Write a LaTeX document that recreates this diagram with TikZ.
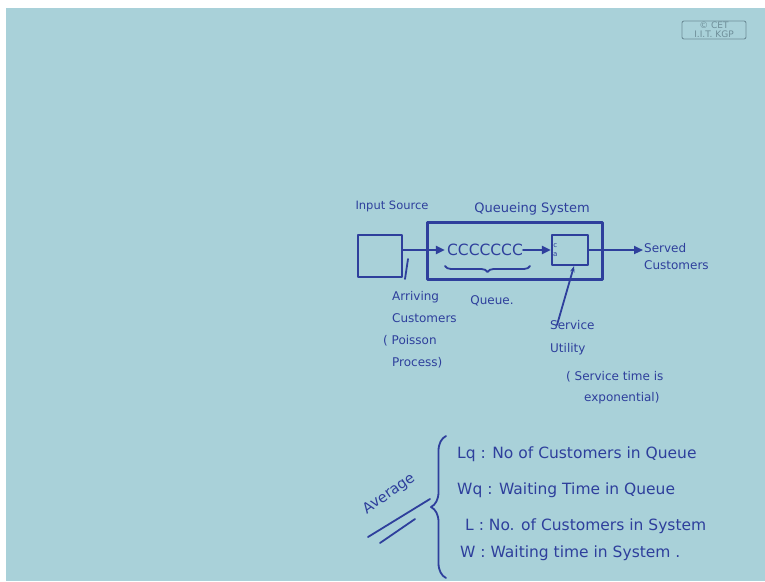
\documentclass[tikz,border=0pt]{standalone}
\usepackage{fontspec}
\setmainfont{DejaVu Sans}
\usetikzlibrary{
  arrows.meta,
  positioning,
  decorations.pathreplacing
}
\definecolor{qsBoard}{HTML}{A9D1D9}
\definecolor{qsInk}{HTML}{2E3F9C}
\definecolor{qsMark}{HTML}{6E8E99}
\tikzset{
  ink/.style={draw=qsInk, line width=2.2pt, line cap=round, line join=round},
  hand/.style={text=qsInk, inner sep=1pt, align=left},
  unitbox/.style={ink, rectangle, inner sep=0pt},
  flow/.style={ink, -{Triangle[length=9pt, width=8pt]}},
  pointer/.style={ink, line width=1.8pt},
  brace/.style={ink, line width=1.8pt, decorate, decoration={brace, amplitude=#1}},
  tag/.style={draw=qsMark, text=qsMark, rounded corners=2pt, line width=0.9pt,
    font=\fontsize{9}{9}\selectfont, align=center, inner sep=1pt},
  fs/.style 2 args={font=\fontsize{#1}{#2}\selectfont}
}

\begin{document}
\begin{tikzpicture}[x=1pt, y=-1pt, font=\fontsize{12}{14}\selectfont]
  \fill[white] (0,0) rectangle (765,581);
  \fill[qsBoard] (6,8) rectangle (765,581);
  \useasboundingbox (0,0) rectangle (765,581);

  % copyright tag
  \node[tag, minimum width=64, minimum height=18] (cet) at (714,30) {\copyright\ CET\\I.I.T. KGP};

  % queueing model
  \node[hand, fs={11.5}{13}] (srclbl) at (392,206) {Input Source};
  \node[hand, fs={13}{15}] (syslbl) at (532,209) {Queueing System};
  \node[unitbox, minimum width=44, minimum height=42] (source) at (380,256) {};
  \node[unitbox, minimum width=175, minimum height=57] (system) at (515,251) {};
  \node[hand, fs={15.5}{16}, inner sep=0pt] (custs) at (485,250) {CCCCCCC};
  \node[unitbox, minimum width=36, minimum height=30] (server) at (570,250) {};
  \node[hand, fs={7}{9}, align=center, anchor=west, inner sep=2pt] (srvin) at (server.west) {c\\a};
  \node[hand, fs={12}{17}, anchor=west] (served) at (643,257) {Served\\Customers};

  \draw[flow] (source.east |- custs.west) -- ([xshift=-2]custs.west);
  \draw[flow] (custs.east) -- (server.west);
  \draw[flow] (server.east) -- (server.east -| served.west);

  % labels under the model
  \node[hand, fs={12}{22}, anchor=north west] (arriving) at (382,290) {\hspace*{9pt}Arriving\\\hspace*{9pt}Customers\\( Poisson\\\hspace*{9pt}Process)};
  \node[hand, fs={12}{14}] (qlbl) at (492,301) {Queue.};
  \node[hand, fs={12}{23}, anchor=north west] (utility) at (549,319) {Service\\Utility};
  \node[hand, fs={12}{21}, anchor=north west] (expo) at (565,370) {( Service time is\\\hspace*{18pt}exponential)};

  \coordinate (tickbot) at (405,279);
  \coordinate (ticktop) at (408,259);
  \draw[pointer] (tickbot) -- (ticktop);
  \draw[pointer, -{Stealth[length=6pt]}] ([xshift=8,yshift=-6]utility.north west) -- ([xshift=4]server.south);
  \draw[brace=6pt] (530,266) -- (445,266);

  % averages
  \node[hand, fs={14.5}{16}, rotate=35] (avg) at (389,494) {Average};
  \draw[ink, line width=1.8pt] (368,537) -- (430,499);
  \draw[ink, line width=1.8pt] (380,543) -- (415,519);
  \draw[brace=15pt] (446,578) -- (446,436);

  \node[hand, fs={15.5}{17}, anchor=west] (lq) at (456,454) {Lq : No of Customers in Queue};
  \node[hand, fs={15.5}{17}, anchor=west] (wq) at (456,490) {Wq : Waiting Time in Queue};
  \node[hand, fs={15.5}{17}, anchor=west] (ls) at (464,526) {L : No. of Customers in System};
  \node[hand, fs={15.5}{17}, anchor=west] (ws) at (459,553) {W : Waiting time in System .};
\end{tikzpicture}
\end{document}
